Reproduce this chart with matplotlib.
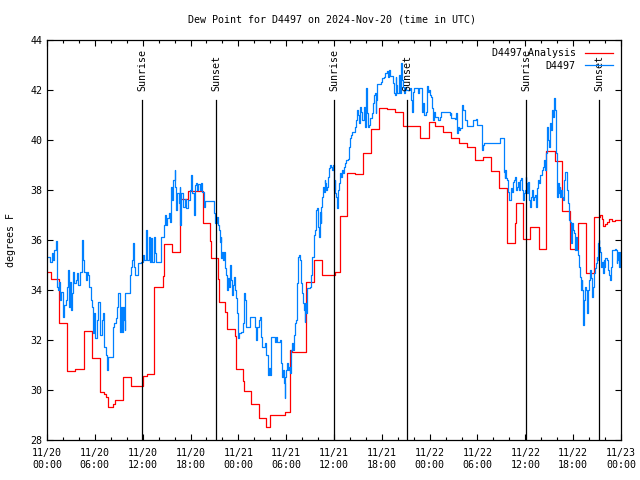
import matplotlib
matplotlib.use("Agg")
import matplotlib.pyplot as plt
from matplotlib.ticker import MultipleLocator, FixedLocator

# ---- data (hours since 2024-11-20 00:00 UTC, degrees F) ----
analysis_t = [0.0, 0.50, 1.51, 2.55, 3.55, 4.60, 5.61, 6.61, 7.19, 7.36, 7.69, 8.32, 8.53,
              9.53, 10.57, 12.04, 12.58, 13.48, 14.49, 14.64, 15.62, 15.74, 16.68, 17.69,
              19.51, 20.41, 20.61, 21.45, 21.58, 22.29, 22.62, 23.55, 23.75, 24.59, 24.67,
              25.63, 26.56, 27.51, 28.01, 29.85, 30.54, 30.73, 32.55, 33.49, 34.5, 36.09,
              36.72, 37.69, 38.67, 39.64, 40.6, 41.61, 42.59, 43.59, 44.62, 46.73, 47.86,
              48.63, 49.67, 50.72, 51.64, 52.72, 53.73, 54.69, 55.66, 56.70, 57.74, 58.67,
              58.77, 59.77, 60.63, 61.68, 62.63, 63.66, 64.60, 65.64, 66.65, 67.65, 68.65,
              69.37, 69.56, 69.74, 70.0, 70.25, 70.5, 70.87, 71.25, 72.0]
analysis_v = [34.73, 34.43, 32.67, 30.76, 30.83, 32.35, 31.29, 29.91, 29.84, 29.7, 29.31, 29.44, 29.6,
              30.51, 30.16, 30.56, 30.64, 34.13, 34.56, 35.84, 35.76, 35.51, 37.63, 37.97,
              36.67, 35.96, 35.27, 34.44, 33.53, 33.11, 32.44, 32.17, 30.83, 30.36, 29.96,
              29.44, 28.87, 28.53, 29.0, 29.1, 31.6, 31.5, 34.33, 35.2, 34.6, 34.71,
              36.97, 38.67, 38.63, 39.47, 40.43, 41.29, 41.23, 41.13, 40.56, 40.07, 40.71,
              40.56, 40.31, 40.07, 39.89, 39.73, 39.2, 39.33, 38.77, 38.07, 35.87, 36.67,
              37.47, 36.04, 36.51, 35.63, 39.56, 39.16, 37.16, 35.63, 36.67, 34.67, 36.93,
              37.0, 36.83, 36.55, 36.65, 36.7, 36.85, 36.75, 36.8, 36.78]

obs_t = [0.0, 0.38, 0.59, 0.79, 0.92, 1.09, 1.21, 1.30, 1.42, 1.55, 1.63, 1.76, 1.92, 2.05, 2.17,
         2.34, 2.47, 2.59, 2.76, 2.89, 3.01, 3.09, 3.30, 3.43, 3.60, 3.72, 3.93, 4.14, 4.35, 4.47,
         4.68, 4.85, 5.06, 5.18, 5.31, 5.48, 5.60, 5.73, 5.90, 6.02, 6.23, 6.44, 6.65, 6.86, 7.07,
         7.19, 7.36, 7.48, 7.69, 8.11, 8.24, 8.40, 8.61, 8.74, 8.86,
         9.12, 9.24, 9.41, 9.53, 9.66, 9.74, 9.83, 10.37, 10.45, 10.58, 10.66, 10.79, 10.91, 11.00,
         11.21, 11.42, 11.83, 12.04, 12.17, 12.46, 12.59, 12.75, 12.88, 13.09, 13.21, 13.38, 13.59,
         13.71, 14.13, 14.26, 14.55, 14.68, 14.84, 14.97, 15.09, 15.26, 15.39, 15.51, 15.60, 15.72,
         15.85, 16.01, 16.10, 16.22, 16.35, 16.52, 16.64, 16.73, 16.85, 17.06, 17.27, 17.48, 17.69,
         17.90, 18.10, 18.19, 18.44, 18.61, 18.73,
         18.82, 18.94, 19.15, 19.36, 19.49, 19.65, 19.78, 20.95, 21.07, 21.32, 21.45, 21.58, 21.66,
         21.78, 21.87, 21.99, 22.08, 22.20, 22.33, 22.50, 22.58, 22.70, 22.83, 22.91, 23.12, 23.25,
         23.33, 23.46, 23.58, 23.75, 23.88, 24.00, 24.08, 24.38, 24.59, 24.71, 24.84, 24.92, 25.25,
         25.42, 25.84, 26.05, 26.26, 26.38, 26.59, 26.72, 26.80, 26.93, 27.30, 27.43, 27.60, 27.72,
         27.85, 28.01, 28.14,
         28.56, 28.64, 28.77, 28.89, 29.19, 29.31, 29.39, 29.52, 29.60, 29.73, 29.81, 29.90, 30.02,
         30.15, 30.23, 30.36, 30.48, 30.65, 30.77, 30.90, 30.98, 31.07, 31.19, 31.32, 31.40, 31.49,
         31.61, 31.74, 31.82, 31.90, 32.03, 32.11, 32.24, 32.32, 32.41, 32.53, 32.66, 32.95, 33.07,
         33.16, 33.28, 33.41, 33.49, 33.66, 33.79, 33.91, 33.99, 34.12, 34.20, 34.33, 34.41, 34.50,
         34.62, 34.75, 34.83, 34.91, 35.04, 35.16, 35.25, 35.37, 35.50, 35.67, 35.79, 35.88, 35.96,
         36.08, 36.17, 36.29, 36.42, 36.54, 36.63, 36.71, 36.84, 36.96, 37.13, 37.26, 37.42, 37.55,
         37.72, 37.84, 37.97, 38.18, 38.30, 38.51, 38.64, 38.80, 38.89, 39.01, 39.14, 39.30, 39.43,
         39.56, 39.72, 39.85, 39.97, 40.14, 40.27, 40.39, 40.56, 40.73, 40.89, 41.02, 41.10, 41.23,
         41.31, 41.44, 41.73, 41.94, 42.06, 42.23, 42.36, 42.65, 42.77, 42.86, 42.98, 43.19, 43.40,
         43.49, 43.61, 43.74, 43.82, 43.90, 44.03, 44.15, 44.24, 44.32, 44.45, 44.53, 44.66, 44.78,
         44.91, 45.07, 45.41, 45.58, 45.70, 45.79, 45.91, 46.04, 46.54, 46.66,
         46.96, 47.08, 47.17, 47.25, 47.58, 47.71, 47.79, 47.92, 48.00, 48.21, 48.29, 48.38, 48.50,
         48.63, 49.05, 49.26, 49.47, 50.51, 50.64, 50.72, 51.14, 51.35, 51.47, 51.56, 51.64, 51.76,
         52.10, 52.22, 52.39, 52.48, 52.73, 53.31, 53.44, 53.86, 53.98, 54.40, 54.57, 54.69, 54.82,
         56.78, 57.20, 57.33, 57.41, 57.49, 57.62, 57.70, 57.83, 57.95, 58.12, 58.25, 58.37, 58.46,
         58.58, 58.71, 58.87, 58.96, 59.08, 59.21, 59.29, 59.42, 59.54, 59.63, 59.71, 59.79, 59.92,
         60.04, 60.13, 60.21, 60.34, 60.46, 60.63, 60.75, 60.88, 61.01, 61.13, 61.26, 61.38, 61.51,
         61.63, 61.76, 61.88, 62.13, 62.22, 62.30, 62.43, 62.55, 62.64, 62.72, 62.76, 62.89, 62.97,
         63.05, 63.14, 63.26, 63.35, 63.47, 63.56, 63.64, 63.72, 63.81, 63.89, 63.97, 64.06, 64.14,
         64.22, 64.31, 64.39, 64.52, 64.64, 64.73, 64.81, 64.94,
         65.19, 65.31, 65.40, 65.48, 65.60, 65.73, 65.81, 65.90, 66.02, 66.15, 66.23, 66.36, 66.48,
         66.65, 66.73, 66.86, 66.94, 67.07, 67.15, 67.28, 67.40, 67.49, 67.57, 67.70, 67.78, 67.90,
         67.99, 68.11, 68.24, 68.32, 68.41, 68.53, 68.66, 68.74, 68.82, 68.95, 69.03, 69.12, 69.20,
         69.28, 69.37, 69.49, 69.58, 69.70, 69.83, 69.91, 70.00, 70.20, 70.33, 70.41, 70.50, 70.62,
         70.75, 70.83, 71.25, 71.37, 71.46, 71.54, 71.67, 71.75, 71.88, 72.0]
obs_v = [35.31, 35.13, 35.47, 35.2, 35.6, 35.96, 35.2, 34.13, 34.0, 34.33, 33.6, 33.93, 33.93, 32.93, 33.4,
         33.6, 34.13, 34.8, 33.33, 34.33, 33.2, 33.87, 34.73, 34.27, 34.4, 34.67, 34.2, 34.73, 36.0, 35.2,
         34.73, 34.4, 34.73, 34.6, 34.13, 33.6, 33.33, 32.27, 33.07, 32.07, 32.8, 33.53, 32.2, 32.8, 33.07,
         31.73, 31.4, 30.8, 31.33, 31.33, 32.53, 32.67, 32.87, 33.33, 33.87,
         32.33, 33.33, 32.33, 33.33, 32.8, 32.4, 33.87, 33.87, 34.6, 34.93, 35.2, 35.87, 34.93, 34.6,
         34.6, 35.07, 35.13, 35.4, 35.2, 36.4, 35.2, 36.13, 35.13, 36.07, 35.13, 36.13, 35.47,
         35.13, 35.13, 36.11, 36.13, 36.6, 37.0, 36.6, 36.87, 37.07, 36.73, 37.47, 38.13, 37.6,
         38.4, 38.8, 38.13, 37.2, 37.87, 37.47, 38.13, 36.6, 37.87, 37.33, 37.63, 37.27, 37.6,
         38.0, 38.6, 37.87, 37.0, 38.2, 38.27,
         38.0, 38.24, 38.0, 38.27, 37.93, 37.33, 37.57, 37.07, 36.67, 36.93, 36.6, 36.4, 35.93,
         36.13, 35.27, 35.53, 35.2, 35.53, 34.87, 34.6, 34.0, 34.47, 34.13, 35.0, 34.4, 33.8,
         34.2, 34.53, 34.0, 33.67, 33.07, 32.07, 32.27, 32.33, 32.67, 33.87, 33.6, 32.53, 32.53,
         32.93, 32.93, 32.53, 32.0, 32.53, 32.8, 32.93, 32.13, 31.73, 31.87, 31.4, 31.4, 30.6,
         30.87, 30.6, 32.13,
         32.13, 31.93, 32.13, 31.93, 32.0, 31.6, 31.07, 30.53, 30.8, 30.27, 29.67, 30.53, 30.8,
         31.07, 30.8, 30.93, 30.67, 31.6, 31.87, 31.6, 32.2, 32.67, 32.8, 33.87, 34.27, 35.33,
         35.4, 35.2, 34.53, 34.27, 33.87, 33.47, 33.2, 32.73, 33.47, 33.07, 34.07, 34.13, 34.27,
         34.6, 35.33, 35.33, 36.2, 36.4, 37.2, 37.27, 36.53, 36.13, 37.13, 36.67, 37.33, 37.73,
         38.13, 37.93, 38.4, 38.27, 38.0, 38.13, 38.53, 38.87, 39.0, 38.93, 38.8, 39.0, 38.0,
         38.4, 37.87, 37.73, 37.27, 38.0, 38.27, 38.67, 38.53, 38.8, 38.67, 38.93, 39.07, 39.2,
         39.25, 39.73, 40.07, 40.2, 40.33, 40.33, 40.53, 40.8, 41.2, 41.0, 40.67, 41.33, 41.13,
         40.8, 41.33, 40.53, 42.07, 41.07, 40.53, 40.6, 40.87, 41.07, 41.47, 41.8, 41.87, 41.07,
         41.6, 42.24, 42.24, 42.33, 42.47, 42.53, 42.67, 42.77, 42.53, 42.8, 42.56, 42.56, 42.27,
         41.87, 41.8, 42.53, 42.2, 41.87, 41.87, 42.6, 42.33, 41.87, 43.07, 42.4, 42.13, 41.87,
         42.13, 42.0, 42.0, 42.07, 41.6, 41.13, 41.93, 42.07, 41.87, 42.07,
         42.07, 41.13, 41.47, 41.0, 41.13, 42.16, 41.93, 42.0, 41.8, 41.73, 41.27, 40.8, 41.13,
         40.93, 40.8, 40.93, 41.13, 41.0, 41.07, 40.87, 40.83, 41.07, 40.27, 40.53, 40.4, 40.47,
         41.4, 41.2, 41.13, 40.8, 40.57, 40.57, 40.8, 40.83, 40.6, 40.6, 39.6, 39.8, 39.87,
         40.09, 40.09, 38.73, 38.47, 38.8, 38.47, 38.4, 37.93, 37.6, 37.6, 38.07, 37.93, 38.33,
         38.4, 38.51, 38.0, 38.13, 38.33, 38.0, 38.4, 38.47, 38.07, 38.0, 37.6, 37.87, 38.0,
         38.53, 38.27, 37.87, 38.33, 37.6, 37.33, 37.73, 38.0, 37.6, 37.73, 37.8, 37.33, 38.07,
         38.4, 38.27, 38.6, 38.8, 38.93, 39.2, 38.8, 39.13, 39.47, 40.0, 40.53, 40.0, 39.73,
         40.27, 40.67, 40.4, 41.2, 40.93, 41.2, 41.67, 41.2, 40.27, 39.47, 37.73, 38.0, 38.27,
         37.87, 38.13, 37.73, 38.0, 37.73, 37.6, 38.4, 38.73,
         38.0, 37.87, 37.47, 36.8, 36.73, 35.87, 36.4, 36.67, 36.4, 36.27, 35.6, 36.13, 35.6,
         35.4, 34.93, 34.53, 34.0, 34.4, 34.0, 32.6, 33.6, 34.13, 34.0, 33.33, 33.07, 34.0,
         34.4, 34.8, 34.47, 34.4, 33.73, 34.13, 34.67, 34.87, 35.07, 35.33, 35.2, 35.87, 36.0,
         35.73, 35.53, 34.93, 35.13, 34.67, 35.2, 34.93, 35.27, 35.2, 34.87, 34.8, 34.6, 34.4,
         34.93, 35.6, 35.63, 35.6, 35.07, 35.2, 35.53, 34.93, 35.53, 35.2]

sun_events = [11.92, 21.2, 36.0, 45.16, 60.09, 69.24]
sun_labels = ["Sunrise", "Sunset", "Sunrise", "Sunset", "Sunrise", "Sunset"]
xtick_labels = ["11/20\n00:00", "11/20\n06:00", "11/20\n12:00", "11/20\n18:00",
                "11/21\n00:00", "11/21\n06:00", "11/21\n12:00", "11/21\n18:00",
                "11/22\n00:00", "11/22\n06:00", "11/22\n12:00", "11/22\n18:00",
                "11/23\n00:00"]

plt.rcParams['font.family'] = ['DejaVu Sans Mono']
FS = 7.2

fig = plt.figure(figsize=(6.4, 4.8), dpi=100)
ax = fig.add_axes([47/640, 40/480, (621-47)/640, 400/480])

ax.plot(analysis_t, analysis_v, drawstyle='steps-post', color='#ff0000', lw=0.9,
        label='D4497 Analysis')
ax.plot(obs_t, obs_v, drawstyle='steps-post', color='#0080ff', lw=0.9, label='D4497')

for t, lab in zip(sun_events, sun_labels):
    ax.plot([t, t], [28, 41.6], color='black', lw=0.9)
    ax.text(t, 41.95, lab, rotation=90, ha='center', va='bottom', fontsize=FS)

ax.set_xlim(0, 72)
ax.set_ylim(28, 44)
ax.xaxis.set_major_locator(FixedLocator(list(range(0, 73, 6))))
ax.set_xticklabels(xtick_labels)
ax.xaxis.set_minor_locator(MultipleLocator(2))
ax.yaxis.set_major_locator(MultipleLocator(2))
ax.tick_params(which='both', direction='in', top=True, right=True, labelsize=FS, width=0.8,
               colors='black')
ax.tick_params(which='major', length=4)
ax.tick_params(which='minor', length=2.2)
ax.tick_params(axis='x', pad=6)
for s in ax.spines.values():
    s.set_linewidth(0.9)

ax.set_ylabel('degrees F', fontsize=FS, labelpad=10)
fig.text(332/640, 1 - 20/480, 'Dew Point for D4497 on 2024-Nov-20 (time in UTC)',
         ha='center', va='center', fontsize=FS)

leg = ax.legend(loc='upper right', frameon=False, markerfirst=False, fontsize=FS,
                handlelength=2.8, handletextpad=0.9, labelspacing=0.25,
                borderaxespad=0.85, borderpad=0.0)

fig.savefig('out.png', dpi=100)
